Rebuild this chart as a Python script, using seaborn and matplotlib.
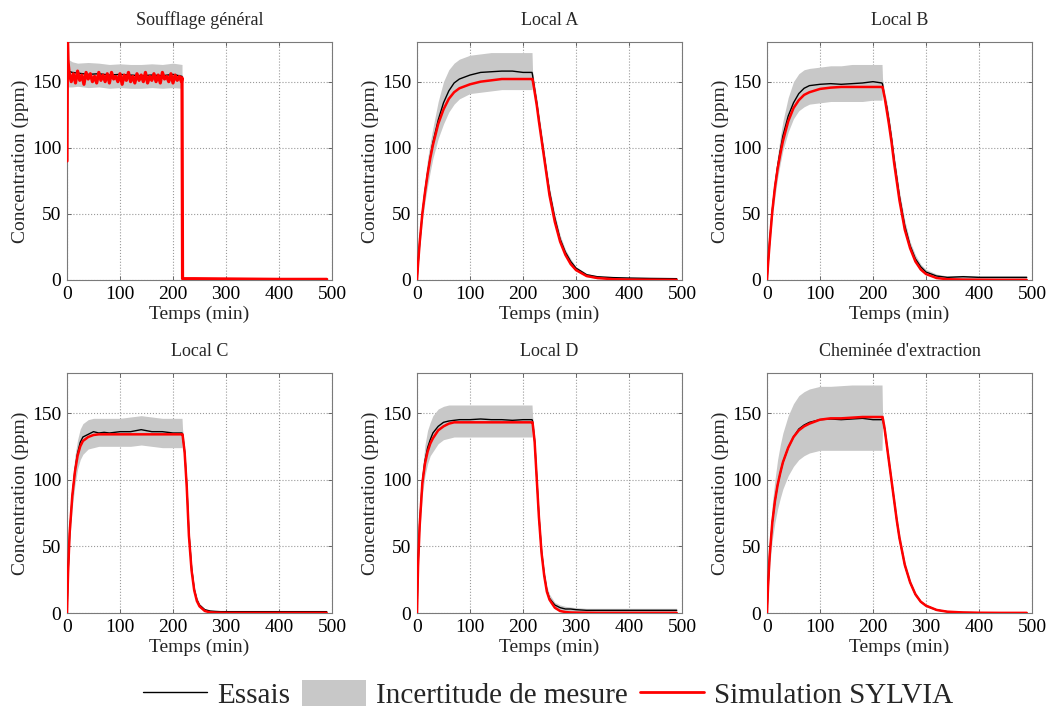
import numpy as np
import pandas as pd
import matplotlib
matplotlib.use("Agg")
import matplotlib.pyplot as plt
from matplotlib.lines import Line2D
from matplotlib.patches import Patch
import seaborn as sns

# ---------------- data ----------------
titles = ["Soufflage général", "Local A", "Local B", "Local C", "Local D", "Cheminée d'extraction"]

# Soufflage général: measurement (coarse) and simulation (dense, noisy)
t_meas_s = [0, 2, 10, 20, 40, 60, 80, 100, 120, 140, 160, 180, 200, 217, 218, 240, 300, 400, 490]
ess_s = [155, 158, 157, 156.5, 155.5, 156, 155, 155.5, 155, 154.5, 155, 154.5, 155.5, 154, 1, 0.8, 0.5, 0.5, 0.5]
hi_s = [166, 167, 165, 164, 164.5, 164, 163, 163.5, 163, 163, 163.5, 163, 164, 163, 1.5, 1.2, 1, 1, 1]
lo_s = [146, 146, 146, 146.5, 145.5, 146, 145, 145.5, 145, 145, 145.5, 145, 145.5, 145, 0.5, 0.4, 0.2, 0.2, 0.2]

t_sim_s = [0, 1, 2,
           4, 8, 12, 16, 20, 24, 28, 32, 36, 40, 44, 48, 52, 56, 60, 64, 68, 72, 76, 80,
           84, 88, 92, 96, 100, 104, 108, 112, 116, 120, 124, 128, 132, 136, 140, 144,
           148, 152, 156, 160, 164, 168, 172, 176, 180, 184, 188, 192, 196, 200, 204, 208,
           212, 216, 217, 218, 240, 300, 400, 490]
sim_s = [90, 180, 165,
         157, 150, 156, 149, 158, 151, 155, 148, 157, 152, 156, 150, 154, 149, 157, 151, 155, 150,
         156, 149, 157, 152, 154, 150, 156, 148, 155, 151, 157, 150, 154, 149, 156, 151, 155,
         150, 157, 149, 154, 151, 156, 150, 155, 149, 157, 152, 154, 150, 156, 149, 155, 151,
         154, 150, 153, 1, 1, 0.8, 0.5, 0.5]

# Other panels share one time grid (min)
t = [0, 2, 5, 10, 15, 20, 25, 30, 40, 50, 60, 70, 80, 100, 120, 140, 160, 180, 200, 217,
     218, 222, 226, 230, 235, 240, 245, 250, 260, 270, 280, 290, 300, 320, 340, 370, 400, 440, 490]

ess_A = [0, 12, 28, 50, 67, 81, 93, 104, 121, 134, 143, 149, 152, 155, 157, 157.5, 158, 158, 157, 157,
         155, 144, 134, 122, 108, 94, 80, 67, 47, 31, 21, 14, 9, 4, 2.5, 1.8, 1.5, 1.2, 1.0]
hi_A = [0, 14, 32, 56, 75, 92, 104, 115, 135, 150, 159, 164, 167, 170, 171, 172, 172, 172, 172, 172,
        158, 148, 138, 126, 112, 98, 84, 70, 50, 34, 23, 16, 10, 5, 3, 2, 1.8, 1.5, 1.2]
lo_A = [0, 10, 24, 44, 59, 71, 82, 92, 107, 118, 127, 133, 137, 141, 142, 143, 144, 144, 144, 144,
        150, 138, 128, 116, 102, 88, 75, 62, 43, 28, 18, 12, 7, 2.5, 1, 0.5, 0.3, 0.2, 0.1]
sim_A = [0, 12, 28, 50, 66, 80, 92, 102, 118, 129, 137, 142, 145, 148, 150, 151, 152, 152, 152, 152,
         152, 142, 132, 120, 106, 92, 78, 64, 44, 29, 19, 12, 7.5, 3, 1.5, 0.6, 0.3, 0.2, 0.1]

ess_B = [0, 12, 29, 53, 71, 86, 98, 109, 124, 134, 141, 145, 147, 148, 148.5, 148, 148.5, 149, 150, 149,
         148, 138, 131, 121, 107, 91, 77, 63, 41, 26, 16, 10, 6, 3, 2, 2.5, 2, 2, 2]
hi_B = [0, 14, 32, 58, 78, 94, 108, 120, 138, 150, 156, 159, 160, 161, 162, 162, 163, 163, 163, 163,
        152, 142, 135, 125, 111, 95, 81, 67, 45, 29, 19, 12, 8, 4.5, 3, 3.5, 3, 3, 3]
lo_B = [0, 10, 25, 47, 63, 77, 88, 98, 112, 122, 128, 131, 133, 134, 135, 135, 135, 135, 136, 136,
        144, 134, 126, 116, 102, 86, 72, 58, 36, 22, 13, 7, 4, 1.3, 0.5, 0.3, 0.2, 0.1, 0.1]
sim_B = [0, 12, 28, 52, 70, 84, 95, 105, 120, 130, 136, 140, 142, 144.5, 145.5, 146, 146, 146, 146, 146,
         146, 138, 128, 118, 104, 88, 74, 60, 38, 24, 14, 8, 4.5, 1.5, 0.6, 0.3, 0.2, 0.1, 0.1]

ess_C = [0, 30, 60, 88, 107, 120, 128, 132, 134, 136, 135, 135.5, 135, 136, 136, 137.5, 136, 136, 135, 135,
         134, 121, 96, 60, 34, 18, 10, 6, 2.5, 1.5, 1.2, 1, 1, 1, 1, 1, 1, 1, 1]
hi_C = [0, 33, 66, 97, 118, 130, 138, 142, 145, 146, 146, 146, 146, 146, 147, 148, 147, 146, 146, 146,
        138, 125, 100, 64, 37, 20, 12, 7, 3, 2, 1.6, 1.4, 1.3, 1.3, 1.3, 1.3, 1.3, 1.3, 1.3]
lo_C = [0, 27, 54, 79, 96, 108, 115, 119, 123, 124, 125, 125, 125, 125, 125, 126, 125, 124, 124, 124,
        131, 117, 91, 56, 30, 15, 8, 4, 1.5, 0.6, 0.4, 0.3, 0.2, 0.2, 0.1, 0.1, 0.1, 0.1, 0.1]
sim_C = [0, 30, 60, 88, 106, 118, 125, 129, 132, 133.5, 134, 134, 134, 134, 134, 134, 134, 134, 134, 134,
         134, 120, 94, 58, 32, 17, 9, 5, 1.5, 0.5, 0.3, 0.2, 0.1, 0.1, 0.1, 0.1, 0.1, 0.1, 0.1]

ess_D = [0, 36, 67, 98, 114, 124, 130, 135, 140, 143, 144, 144.5, 145, 145, 145.5, 145, 145, 144.5, 145, 145,
         144, 129, 101, 73, 46, 29, 17, 11, 6, 4, 3, 3, 2.5, 2, 2, 2, 2, 2, 2]
hi_D = [0, 40, 74, 107, 126, 137, 143, 148, 153, 155, 156, 156, 156, 156, 156, 156, 156, 156, 156, 156,
        148, 133, 105, 77, 50, 32, 20, 14, 8, 6, 5, 4.5, 4, 3.5, 3.5, 3.5, 3.5, 3.5, 3.5]
lo_D = [0, 32, 60, 88, 103, 112, 118, 121, 127, 130, 131, 132, 132, 132, 132, 132, 132, 132, 132, 132,
        140, 124, 96, 69, 42, 25, 14, 8, 3, 1, 0.5, 0.3, 0.2, 0.1, 0.1, 0.1, 0.1, 0.1, 0.1]
sim_D = [0, 35, 65, 97, 112, 121, 127, 131, 137, 140, 142, 143, 143, 143, 143, 143, 143, 143, 143, 143,
         143, 128, 100, 72, 45, 28, 16, 10, 4, 1.5, 0.7, 0.4, 0.3, 0.2, 0.1, 0.1, 0.1, 0.1, 0.1]

ess_E = [0, 20, 43, 68, 84, 96, 105, 113, 124, 132, 138, 141, 143, 145, 145.5, 145, 145.5, 146, 145, 145,
         146, 138, 126, 114, 99, 84, 69, 56, 36, 23, 14, 8.5, 5.5, 2.3, 1, 0.4, 0.2, 0.1, 0.1]
hi_E = [0, 25, 53, 82, 100, 115, 126, 135, 148, 157, 163, 166, 168, 170, 170, 170.5, 171, 171, 171, 171,
        150, 142, 130, 118, 103, 88, 73, 60, 39, 25, 15.5, 9.5, 6.5, 2.8, 1.3, 0.5, 0.3, 0.2, 0.2]
lo_E = [0, 16, 35, 55, 68, 78, 86, 93, 103, 110, 115, 118, 120, 122, 122, 122, 122, 122, 122, 122,
        142, 134, 122, 110, 95, 80, 65, 52, 33, 21, 12.5, 7.5, 4.5, 1.8, 0.7, 0.3, 0.1, 0.1, 0.1]
sim_E = [0, 20, 43, 68, 84, 96, 105, 113, 124, 132, 137, 140, 142, 145, 146, 146, 146.5, 147, 147, 147,
         147, 138, 126, 114, 99, 84, 69, 56, 36, 23, 14, 8.5, 5.5, 2.3, 1, 0.4, 0.2, 0.1, 0.1]

x_ticks = [0, 100, 200, 300, 400, 500]
y_ticks = [0, 50, 100, 150]
xlabel = "Temps (min)"
ylabel = "Concentration (ppm)"
legend_labels = ["Essais", "Incertitude de mesure", "Simulation SYLVIA"]

# ---------------- style ----------------
sns.set_theme(style="white")
plt.rcParams["font.family"] = ["Liberation Serif", "DejaVu Serif"]

panels = [
    (t_meas_s, ess_s, lo_s, hi_s, t_sim_s, sim_s),
    (t, ess_A, lo_A, hi_A, t, sim_A),
    (t, ess_B, lo_B, hi_B, t, sim_B),
    (t, ess_C, lo_C, hi_C, t, sim_C),
    (t, ess_D, lo_D, hi_D, t, sim_D),
    (t, ess_E, lo_E, hi_E, t, sim_E),
]

fig = plt.figure(figsize=(10.5, 7.17), dpi=100)
W, H = 1050, 717
lefts = [67, 417, 767]
rows = [(42, 280), (373, 613)]
band_color = "#c8c8c8"

for i, (tm, ess, lo, hi, ts, sim) in enumerate(panels):
    r, c = divmod(i, 3)
    top, bot = rows[r]
    ax = fig.add_axes([lefts[c] / W, 1 - bot / H, 265 / W, (bot - top) / H])
    ax.fill_between(tm, lo, hi, color=band_color, linewidth=0, zorder=1)
    dm = pd.DataFrame({"t": tm, "c": ess})
    ds = pd.DataFrame({"t": ts, "c": sim})
    sns.lineplot(data=dm, x="t", y="c", ax=ax, color="black", linewidth=1.0,
                 estimator=None, sort=False, zorder=3)
    sns.lineplot(data=ds, x="t", y="c", ax=ax, color="#ff0000",
                 linewidth=2.3 if i == 0 else 1.8,
                 estimator=None, sort=False, zorder=4)
    ax.set_xlim(0, 500)
    ax.set_ylim(0, 180)
    ax.set_xticks(x_ticks)
    ax.set_yticks(y_ticks)
    ax.tick_params(direction="in", length=3, width=0.6, colors="#555555",
                   labelcolor="black", labelsize=14, pad=4,
                   top=True, right=True, bottom=True, left=True)
    ax.grid(True, linestyle=":", color="#9a9a9a", linewidth=0.8)
    ax.set_axisbelow(True)
    for s in ax.spines.values():
        s.set_color("#7a7a7a")
        s.set_linewidth(0.8)
    ax.set_title(titles[i], fontsize=13, pad=12)
    ax.set_xlabel(xlabel, fontsize=14, labelpad=2)
    ax.set_ylabel(ylabel, fontsize=14, labelpad=2)

handles = [
    Line2D([], [], color="black", linewidth=1.0),
    Patch(facecolor=band_color, edgecolor="none"),
    Line2D([], [], color="#ff0000", linewidth=2.0),
]
fig.legend(handles, legend_labels, loc="lower center", bbox_to_anchor=(0.522, -0.026),
           ncol=3, frameon=False, fontsize=21, handlelength=2.2, handleheight=1.0,
           handletextpad=0.35, columnspacing=0.4)

fig.savefig("out.png", dpi=100, facecolor="white")
